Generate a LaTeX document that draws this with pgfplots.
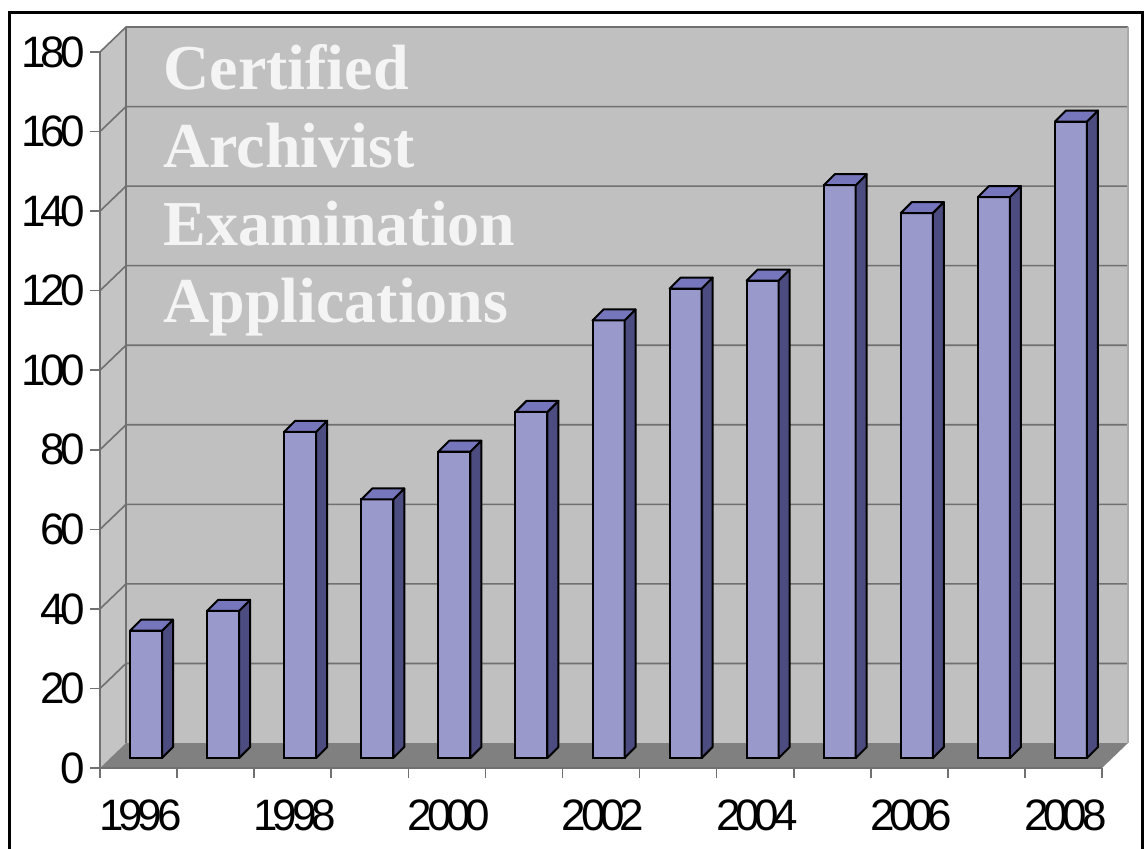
\documentclass[border=0pt]{standalone}
\usepackage{pgfplots}
\pgfplotsset{compat=1.18}
\usepackage{pgfplotstable}
\usepackage{fontspec}
\setmainfont{Liberation Sans}
\newfontfamily\tickfont[LetterSpace=-12]{Liberation Sans}
\newfontfamily\titlefont{Liberation Serif}
\definecolor{wallgray}{RGB}{192,192,192}
\definecolor{sidewall}{RGB}{196,196,196}
\definecolor{floorgray}{RGB}{128,128,128}
\definecolor{gridgray}{RGB}{112,112,112}
\definecolor{barfront}{RGB}{153,153,204}
\definecolor{barside}{RGB}{76,76,128}
\definecolor{bartop}{RGB}{118,118,188}
\definecolor{titlewhite}{RGB}{244,244,244}
\pgfdeclareplotmark{nothing}{}
\pgfplotstableread{
year v
1996 32
1997 37
1998 82
1999 65
2000 77
2001 87
2002 110
2003 118
2004 120
2005 144
2006 137
2007 141
2008 160
}\data
\tikzset{wallshift/.style={shift={(13pt,12.5pt)}}}
\begin{document}
\begin{tikzpicture}
\begin{axis}[
  at={(50pt,40pt)}, anchor=south west, scale only axis,
  width=501pt, height=358pt,
  xmin=0, xmax=13, ymin=0, ymax=180,
  axis x line*=bottom, axis y line*=left,
  axis line style={draw=gridgray, -, line width=0.8pt},
  axis on top,
  tick align=outside, major tick length=5pt,
  tick style={draw=gridgray, line width=0.8pt},
  xtick={0,1,...,13}, xticklabels={},
  extra x ticks={0.5,2.5,4.5,6.5,8.5,10.5,12.5},
  extra x tick labels={1996,1998,2000,2002,2004,2006,2008},
  extra x tick style={major tick length=0pt, tick style={draw=none},
     xticklabel style={yshift=-12.5pt, xshift=1pt}},
  ytick={0,20,...,180},
  /pgf/number format/assume math mode=true,
  yticklabel style={font=\tickfont\fontsize{22}{26}\selectfont, inner sep=2.5pt},
  xticklabel style={font=\tickfont\fontsize{22}{26}\selectfont},
  clip=false,
]
\fill[wallgray] ([wallshift]axis cs:0,0) rectangle ([wallshift]axis cs:13,180);
\fill[sidewall] (axis cs:0,0) -- (axis cs:0,180) -- ([wallshift]axis cs:0,180) -- ([wallshift]axis cs:0,0) -- cycle;
\pgfplotsinvokeforeach{20,40,...,180}{
  \draw[gridgray, line width=0.8pt] (axis cs:0,#1) -- ([wallshift]axis cs:0,#1) -- ([wallshift]axis cs:13,#1);
}
\draw[gridgray, line width=0.8pt] ([wallshift]axis cs:0,0) -- ([wallshift]axis cs:0,180);
\draw[gridgray!60, line width=0.8pt] ([wallshift]axis cs:13,0) -- ([wallshift]axis cs:13,180);
\fill[floorgray] (axis cs:0,0) -- (axis cs:13,0) -- ([wallshift]axis cs:13,0) -- ([wallshift]axis cs:0,0) -- cycle;
\end{axis}

\begin{scope}[every node/.style={anchor=base west, inner sep=0pt, text=titlewhite,
   font=\titlefont\bfseries\fontsize{32}{39}\selectfont}]
\node at (81.5pt,379pt) {Certified};
\node at (81.5pt,340.5pt) {Archivist};
\node at (81.5pt,301.5pt) {Examination};
\node at (81.5pt,263pt) {Applications};
\end{scope}

\begin{axis}[
  at={(55pt,45pt)}, anchor=south west, scale only axis,
  width=501pt, height=358pt,
  xmin=0, xmax=13, ymin=0, ymax=180,
  hide axis, clip=false,
]
\addplot[ybar, bar width=16pt, bar shift=-1.25pt, fill=barfront, draw=black,
  line width=1pt] table[x expr=\thisrow{year}-1995.5, y=v]{\data};
\addplot[scatter, only marks, mark=nothing,
  visualization depends on={\thisrow{v} \as \val},
  scatter/@pre marker code/.code={%
    \filldraw[fill=barside, draw=black, line width=1pt, line join=round]
      (6.75pt,0pt) -- ++(5.5pt,5.5pt) -- ++(0pt,{-\val*1.988889pt}) -- ++(-5.5pt,-5.5pt) -- cycle;
    \filldraw[fill=bartop, draw=black, line width=1pt, line join=round]
      (-9.25pt,0pt) -- ++(5.5pt,5.5pt) -- ++(16pt,0pt) -- ++(-5.5pt,-5.5pt) -- cycle;
  },
  scatter/@post marker code/.code={},
] table[x expr=\thisrow{year}-1995.5, y=v]{\data};
\end{axis}

\draw[black, line width=1.5pt] (4.75pt,-5pt) -- (4.75pt,417.5pt) -- (571pt,417.5pt) -- (571pt,-5pt);
\pgfresetboundingbox
\path[use as bounding box] (0,0) rectangle (572pt,424pt);
\end{tikzpicture}
\end{document}
